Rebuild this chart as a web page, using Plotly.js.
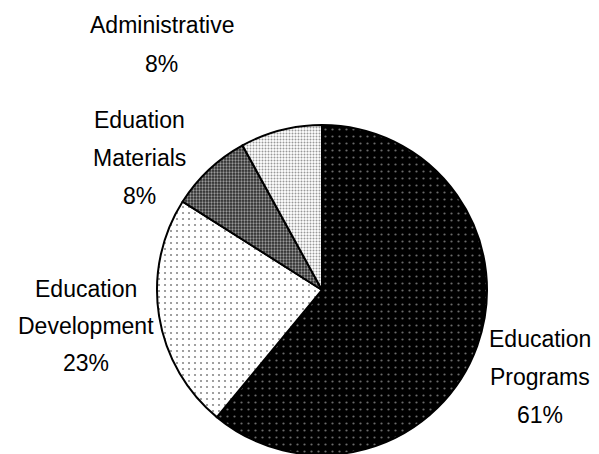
<!DOCTYPE html>
<html>
<head>
<meta charset="utf-8">
<script src="https://cdn.plot.ly/plotly-3.0.1.min.js"></script>
<style>
html,body{margin:0;padding:0;overflow:hidden;background:#fff;}
#chart{width:599px;height:470px;}
</style>
</head>
<body>
<div id="chart"></div>
<script>
// ---- data ----
const categories = ['Education\nPrograms', 'Education\nDevelopment', 'Eduation\nMaterials', 'Administrative'];
const values = [61, 23, 8, 8];

// ---- layout helpers (pixel geometry) ----
const W = 599, H = 470;
const cx = 322, cy = 290, r = 165;
// label block anchors: center x, baseline y of first line, line step
const labelPos = [
  {x: 540, y: 347, step: 38},
  {x: 86,  y: 297, step: 37},
  {x: 139, y: 128, step: 38},
  {x: 162, y: 33,  step: 39}
];

const total = values.reduce((a, b) => a + b, 0);
const annotations = [];
categories.forEach((c, i) => {
  const lines = c.split('\n').concat([Math.round(values[i] / total * 100) + '%']);
  lines.forEach((t, j) => {
    const base = labelPos[i].y + j * labelPos[i].step;
    annotations.push({
      text: t, showarrow: false,
      xref: 'paper', yref: 'paper',
      x: labelPos[i].x / W, y: 1 - (base - 8) / H,
      xanchor: 'center', yanchor: 'middle',
      font: {family: 'Liberation Sans, Arial, sans-serif', size: 23, color: '#000'}
    });
  });
});

const trace = {
  type: 'pie',
  labels: categories.map(c => c.replace('\n', ' ')),
  values: values,
  sort: false,
  direction: 'clockwise',
  rotation: 0,
  textinfo: 'none',
  hoverinfo: 'label+percent',
  showlegend: false,
  domain: {
    x: [(cx - r) / W, (cx + r) / W],
    y: [1 - (cy + r) / H, 1 - (cy - r) / H]
  },
  marker: {
    colors: ['#000000', '#ffffff', '#333333', '#ffffff'],
    line: {color: '#000', width: 2},
    pattern: {
      shape: ['.', '.', '.', '.'],
      bgcolor: ['#000000', '#ffffff', '#2a2a2a', '#ffffff'],
      fgcolor: ['#6a6a6a', '#888888', '#9a9a9a', '#999999'],
      size: [7, 6, 3, 3],
      solidity: [0.08, 0.1, 0.45, 0.35],
      fillmode: 'replace'
    }
  }
};

const layout = {
  width: W, height: H,
  margin: {l: 0, r: 0, t: 0, b: 0},
  paper_bgcolor: '#fff',
  plot_bgcolor: '#fff',
  annotations: annotations
};

Plotly.newPlot('chart', [trace], layout, {displayModeBar: false, staticPlot: true});
</script>
</body>
</html>
